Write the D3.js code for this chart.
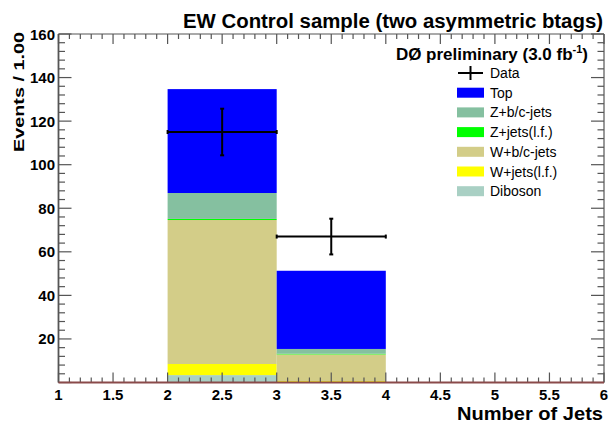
<!DOCTYPE html>
<html><head><meta charset="utf-8">
<script src="https://d3js.org/d3.v7.min.js"></script>
<style>body{margin:0;background:#fff}svg{display:block}text{font-family:"Liberation Sans",Arial,Helvetica,sans-serif}</style>
</head><body>
<script>
// ---- data ----
const binLow = [2, 3];            // lower edge of each Number-of-Jets bin (width 1)
const diboson = [3.4, 0.3];
const wjetsLF = [5.1, 0.4];
const wbc = [66.1, 12.2];
const zjetsLF = [0.5, 0.3];
const zbc = [11.9, 2.2];
const topQ = [47.7, 35.9];
const dataVals = [115, 67];
const dataErr = [10.7, 8.2];
const seriesNames = ["Diboson", "W+jets(l.f.)", "W+b/c-jets", "Z+jets(l.f.)", "Z+b/c-jets", "Top"];
const seriesColors = ["#a9d0c4", "#ffff00", "#d3cd88", "#00ff00", "#85c0a0", "#0000ff"];
const legendOrder = ["Top", "Z+b/c-jets", "Z+jets(l.f.)", "W+b/c-jets", "W+jets(l.f.)", "Diboson"];
const xTickLabels = ["1", "1.5", "2", "2.5", "3", "3.5", "4", "4.5", "5", "5.5", "6"];
const yTickLabels = ["20", "40", "60", "80", "100", "120", "140", "160"];

const W = 616, H = 426;
const L = 58.5, R = 604, T = 34, B = 382.5;
const svg = d3.select("body").append("svg").attr("width", W).attr("height", H);
const x = d3.scaleLinear().domain([1, 6]).range([L, R]);
const y = d3.scaleLinear().domain([0, 160]).range([B, T]);

// stacked bars
const rows = binLow.map((b, i) => ({
  x: b, "Diboson": diboson[i], "W+jets(l.f.)": wjetsLF[i], "W+b/c-jets": wbc[i],
  "Z+jets(l.f.)": zjetsLF[i], "Z+b/c-jets": zbc[i], "Top": topQ[i]
}));
const stack = d3.stack().keys(seriesNames)(rows);
const color = d3.scaleOrdinal().domain(seriesNames).range(seriesColors);
stack.forEach(layer => {
  svg.append("g").selectAll("rect").data(layer).join("rect")
    .attr("x", d => x(d.data.x))
    .attr("width", d => x(d.data.x + 1) - x(d.data.x))
    .attr("y", d => y(d[1]))
    .attr("height", d => y(d[0]) - y(d[1]))
    .attr("fill", color(layer.key));
});

// axes (ticks inside, ROOT style)
const axColor = "#555";
const g = svg.append("g").attr("stroke", axColor).attr("stroke-width", 1.2);
// bottom & top
d3.range(1, 6.0001, 0.1).forEach(v => {
  const major = Math.abs(v * 2 - Math.round(v * 2)) < 1e-6;
  const len = major ? 10 : 5;
  g.append("line").attr("x1", x(v)).attr("x2", x(v)).attr("y1", B).attr("y2", B - len);
  g.append("line").attr("x1", x(v)).attr("x2", x(v)).attr("y1", T).attr("y2", T + len);
});
// left & right
d3.range(0, 160.001, 4).forEach(v => {
  const major = v % 20 === 0;
  const len = major ? 13 : 6.5;
  g.append("line").attr("x1", L).attr("x2", L + len).attr("y1", y(v)).attr("y2", y(v));
  g.append("line").attr("x1", R).attr("x2", R - len).attr("y1", y(v)).attr("y2", y(v));
});
g.append("line").attr("x1", L).attr("x2", L).attr("y1", T).attr("y2", B).attr("stroke-width", 1.8);
g.append("line").attr("x1", R).attr("x2", R).attr("y1", T).attr("y2", B);
g.append("line").attr("x1", L).attr("x2", R).attr("y1", T).attr("y2", T);
svg.append("line").attr("x1", L).attr("x2", R).attr("y1", B).attr("y2", B)
  .attr("stroke", "#8a4a4a").attr("stroke-width", 1.8);

// tick labels
svg.append("g").selectAll("text").data(xTickLabels).join("text")
  .attr("x", d => x(+d)).attr("y", 400).attr("text-anchor", "middle")
  .attr("font-size", 15).attr("font-weight", "bold").text(d => d);
svg.append("g").selectAll("text").data(yTickLabels).join("text")
  .attr("x", 55).attr("y", d => y(+d) + 5.5).attr("text-anchor", "end")
  .attr("font-size", 15).attr("font-weight", "bold").text(d => d);

// axis titles
svg.append("text").attr("x", 603).attr("y", 420).attr("text-anchor", "end")
  .attr("font-size", 18).attr("font-weight", "bold")
  .attr("textLength", 146).attr("lengthAdjust", "spacingAndGlyphs").text("Number of Jets");
svg.append("text").attr("transform", "translate(24,152) rotate(-90)")
  .attr("font-size", 15).attr("font-weight", "bold")
  .attr("textLength", 120).attr("lengthAdjust", "spacingAndGlyphs").text("Events / 1.00");

// titles
svg.append("text").attr("x", 603).attr("y", 28).attr("text-anchor", "end")
  .attr("font-size", 20).attr("font-weight", "bold")
  .attr("textLength", 420).attr("lengthAdjust", "spacingAndGlyphs")
  .text("EW Control sample (two asymmetric btags)");
const dz = svg.append("text").attr("x", 588).attr("y", 60).attr("text-anchor", "end")
  .attr("font-size", 17).attr("font-weight", "bold");
dz.append("tspan").text("DØ preliminary (3.0 fb");
dz.append("tspan").attr("dy", -7).attr("font-size", 11).text("-1");
dz.append("tspan").attr("dy", 7).text(")");

// data points
const dg = svg.append("g").attr("stroke", "#000").attr("stroke-width", 2);
binLow.forEach((b, i) => {
  const cx = x(b + 0.5), cy = y(dataVals[i]);
  dg.append("line").attr("x1", x(b)).attr("x2", x(b + 1)).attr("y1", cy).attr("y2", cy);
  dg.append("line").attr("x1", cx).attr("x2", cx).attr("y1", y(dataVals[i] + dataErr[i])).attr("y2", y(dataVals[i] - dataErr[i]));
  [dataVals[i] + dataErr[i], dataVals[i] - dataErr[i]].forEach(v =>
    dg.append("line").attr("x1", cx - 2).attr("x2", cx + 2).attr("y1", y(v)).attr("y2", y(v)));
  [x(b), x(b + 1)].forEach(xx =>
    dg.append("line").attr("x1", xx).attr("x2", xx).attr("y1", cy - 2).attr("y2", cy + 2));
});

// legend
const lx = 457, ly0 = 73, dy = 19.7;
const lg = svg.append("g");
lg.append("line").attr("x1", lx + 1).attr("x2", lx + 26).attr("y1", ly0).attr("y2", ly0).attr("stroke", "#000").attr("stroke-width", 2);
lg.append("line").attr("x1", lx + 13.5).attr("x2", lx + 13.5).attr("y1", ly0 - 7).attr("y2", ly0 + 7).attr("stroke", "#000").attr("stroke-width", 2);
lg.append("text").attr("x", lx + 33).attr("y", ly0 + 5).attr("font-size", 14).text("Data");
legendOrder.forEach((name, i) => {
  const yy = ly0 + dy * (i + 1);
  lg.append("rect").attr("x", lx).attr("y", yy - 5).attr("width", 27).attr("height", 10).attr("fill", color(name));
  lg.append("text").attr("x", lx + 33).attr("y", yy + 5).attr("font-size", 14).text(name);
});
</script>
</body></html>
